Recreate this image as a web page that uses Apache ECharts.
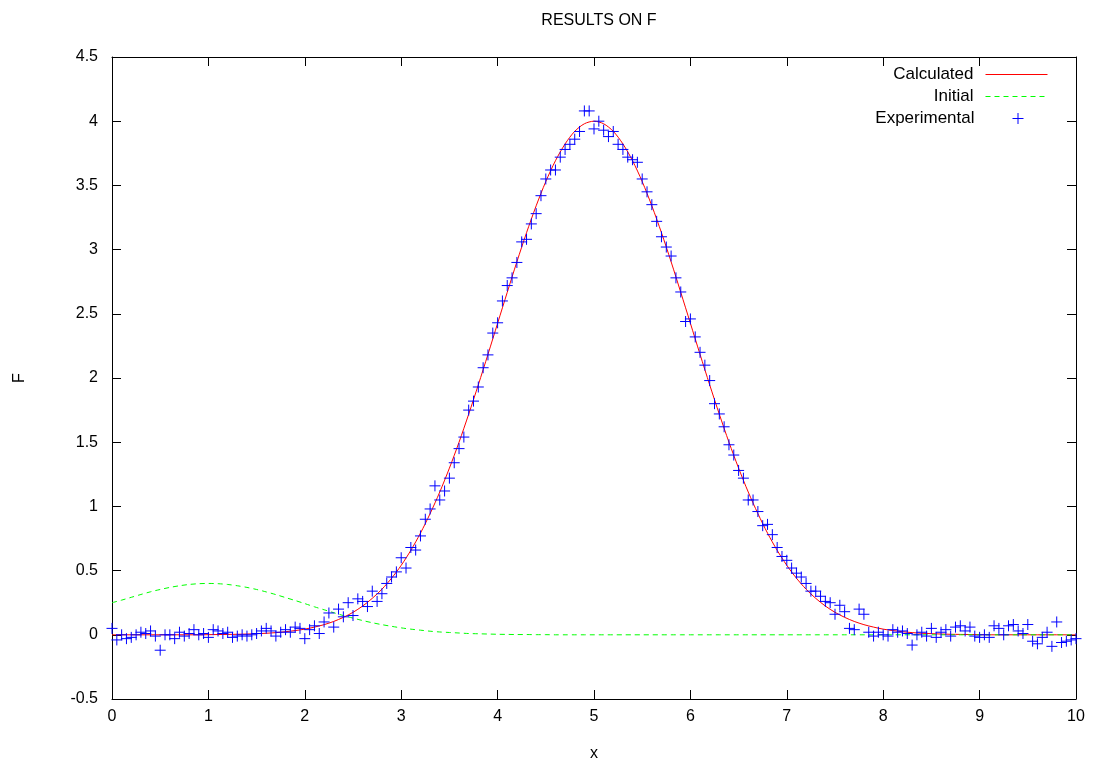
<!DOCTYPE html>
<html>
<head>
<meta charset="utf-8">
<script src="https://cdn.jsdelivr.net/npm/echarts@6/dist/echarts.min.js"></script>
<style>html,body{margin:0;padding:0;background:#fff}#c{width:1095px;height:767px}</style>
</head>
<body>
<div id="c"></div>
<script>
// x grids
const curveStart = 0, curveStep = 0.1;
const expStart = 0, expStep = 0.05;
const xTicks = [0,1,2,3,4,5,6,7,8,9,10];
const yTicks = [-0.5,0,0.5,1,1.5,2,2.5,3,3.5,4,4.5];

// Calculated (red) curve, sampled every 0.1 from x=0 to x=10
const calculated = [
 0.000,0.000,0.000,0.000,0.000,0.000,0.000,0.000,0.000,0.000,
 0.001,0.002,0.003,0.004,0.006,0.009,0.012,0.017,0.024,0.033,
 0.044,0.060,0.079,0.104,0.136,0.175,0.224,0.284,0.355,0.441,
 0.541,0.658,0.792,0.944,1.112,1.298,1.500,1.718,1.947,2.184,
 2.426,2.667,2.905,3.131,3.341,3.530,3.692,3.823,3.921,3.980,
 4.000,
 3.980,3.921,3.823,3.692,3.530,3.341,3.131,2.905,2.667,2.426,
 2.184,1.947,1.718,1.500,1.298,1.112,0.944,0.792,0.658,0.541,
 0.441,0.355,0.284,0.224,0.175,0.136,0.104,0.079,0.060,0.044,
 0.033,0.024,0.017,0.012,0.009,0.006,0.004,0.003,0.002,0.001,
 0.000,0.000,0.000,0.000,0.000,0.000,0.000,0.000,0.000,0.000
];

// Initial (green) curve, sampled every 0.1 from x=0 to x=10
const initial = [
 0.250,0.270,0.292,0.314,0.335,0.353,0.369,0.382,0.392,0.398,
 0.400,0.398,0.392,0.382,0.369,0.353,0.334,0.313,0.290,0.267,
 0.243,0.218,0.195,0.172,0.150,0.130,0.111,0.094,0.079,0.066,
 0.054,0.044,0.036,0.028,0.022,0.018,0.014,0.010,0.008,0.006,
 0.004,0.003,0.002,0.002,0.001,0.001,0.000,0.000,0.000,0.000,
 0.000,0.000,0.000,0.000,0.000,0.000,0.000,0.000,0.000,0.000,
 0.000,0.000,0.000,0.000,0.000,0.000,0.000,0.000,0.000,0.000,
 0.000,0.000,0.000,0.000,0.000,0.000,0.000,0.000,0.000,0.000,
 0.000,0.000,0.000,0.000,0.000,0.000,0.000,0.000,0.000,0.000,
 0.000,0.000,0.000,0.000,0.000,0.000,0.000,0.000,0.000,0.000,
 0.000
];

// Experimental points, every 0.05 from x=0 to x=10
const experimental = [
 0.05,-0.04,0.00,-0.03,-0.02,0.00,0.02,0.01,0.03,-0.01,
 -0.12,0.00,0.00,-0.03,0.02,-0.01,0.01,0.04,0.00,0.01,
 -0.02,0.04,0.03,0.01,0.02,-0.02,-0.01,0.00,-0.01,0.00,
 0.01,0.03,0.05,0.03,-0.01,0.02,0.04,0.02,0.06,0.05,
 -0.03,0.04,0.07,0.01,0.10,0.17,0.06,0.20,0.14,0.25,
 0.15,0.28,0.26,0.22,0.34,0.26,0.32,0.40,0.45,0.49,
 0.60,0.52,0.68,0.66,0.77,0.90,0.98,1.16,1.05,1.12,
 1.22,1.34,1.45,1.54,1.75,1.82,1.93,2.08,2.18,2.35,
 2.43,2.60,2.72,2.78,2.90,3.06,3.08,3.20,3.28,3.42,
 3.55,3.62,3.62,3.72,3.78,3.82,3.86,3.92,4.08,4.08,
 3.94,4.00,3.93,3.88,3.92,3.82,3.78,3.72,3.70,3.68,
 3.55,3.45,3.35,3.22,3.10,3.02,2.95,2.78,2.67,2.44,
 2.46,2.32,2.20,2.10,1.98,1.80,1.72,1.62,1.48,1.40,
 1.28,1.22,1.05,1.05,0.96,0.85,0.86,0.78,0.68,0.61,
 0.58,0.52,0.48,0.45,0.40,0.34,0.34,0.30,0.26,0.25,
 0.16,0.23,0.18,0.05,0.04,0.20,0.16,0.02,-0.01,0.02,
 0.00,-0.01,0.04,0.02,0.03,0.01,-0.08,0.00,0.02,-0.01,
 0.05,-0.02,0.02,0.04,-0.01,0.06,0.07,0.03,0.06,-0.01,
 -0.02,0.00,-0.02,0.07,0.05,0.00,0.07,0.08,0.03,0.01,
 0.08,-0.05,-0.07,-0.02,0.02,-0.09,0.10,-0.06,-0.05,-0.04,
 -0.03
];

const toPairs = (arr, start, step) => arr.map((v, i) => [+(start + i * step).toFixed(4), v]);

const FONT = "'Liberation Sans', Arial, sans-serif";
const plusPath = 'path://M0,5 L10,5 M5,0 L5,10';

const chart = echarts.init(document.getElementById('c'), null, {renderer: 'canvas'});

const baseX = {
  type: 'value', min: xTicks[0], max: xTicks[xTicks.length - 1], interval: 1,
  splitLine: {show: false},
  axisLine: {show: true, onZero: false, lineStyle: {color: '#000', width: 1}},
  axisTick: {show: true, inside: true, length: 9, lineStyle: {color: '#000'}}
};
const baseY = {
  type: 'value', min: yTicks[0], max: yTicks[yTicks.length - 1], interval: 0.5,
  splitLine: {show: false},
  axisLine: {show: true, onZero: false, lineStyle: {color: '#000', width: 1}},
  axisTick: {show: true, inside: true, length: 9, lineStyle: {color: '#000'}}
};

const legendCommon = {
  orient: 'vertical', align: 'right', padding: 0, itemGap: 0,
  selectedMode: false,
  textStyle: {fontFamily: FONT, fontSize: 17, color: '#000'}
};

chart.setOption({
  animation: false,
  backgroundColor: '#fff',
  title: {
    text: 'RESULTS ON F', left: 594, top: 8, textAlign: 'center',
    textStyle: {fontFamily: FONT, fontSize: 16, fontWeight: 'normal', color: '#000'}
  },
  grid: {left: 112, right: 19, top: 57, bottom: 64, containLabel: false},
  legend: [
    Object.assign({}, legendCommon, {
      data: ['Calculated'], right: 47, top: 66, itemWidth: 62, itemHeight: 14,
      itemStyle: {opacity: 0, borderWidth: 0},
      lineStyle: {width: 1},
      textStyle: Object.assign({}, legendCommon.textStyle, {padding: [0, 7, 0, 0]})
    }),
    Object.assign({}, legendCommon, {
      data: ['Initial'], right: 47, top: 88, itemWidth: 62, itemHeight: 14,
      itemStyle: {opacity: 0, borderWidth: 0},
      lineStyle: {width: 1},
      textStyle: Object.assign({}, legendCommon.textStyle, {padding: [0, 7, 0, 0]})
    }),
    Object.assign({}, legendCommon, {
      data: ['Experimental'], right: 71, top: 110, itemWidth: 11, itemHeight: 11,
      itemStyle: {color: '#0000ff', borderColor: '#0000ff', borderWidth: 1},
      textStyle: Object.assign({}, legendCommon.textStyle, {padding: [0, 33, 0, 0]})
    })
  ],
  xAxis: [
    Object.assign({}, baseX, {
      position: 'bottom', name: 'x', nameLocation: 'middle', nameGap: 47,
      nameTextStyle: {fontFamily: FONT, fontSize: 16, color: '#000'},
      axisLabel: {show: true, margin: 10, fontFamily: FONT, fontSize: 16, color: '#000'}
    }),
    Object.assign({}, baseX, {position: 'top', axisLabel: {show: false}})
  ],
  yAxis: [
    Object.assign({}, baseY, {
      position: 'left', name: 'F', nameLocation: 'middle', nameGap: 84, nameRotate: 90,
      nameTextStyle: {fontFamily: FONT, fontSize: 16, color: '#000'},
      axisLabel: {show: true, margin: 14, fontFamily: FONT, fontSize: 16, color: '#000'}
    }),
    Object.assign({}, baseY, {position: 'right', axisLabel: {show: false}})
  ],
  series: [
    {
      name: 'Calculated', type: 'line', xAxisIndex: 0, yAxisIndex: 0,
      data: toPairs(calculated, curveStart, curveStep),
      symbol: 'none', smooth: 0.3,
      lineStyle: {color: '#ff0000', width: 1},
      itemStyle: {color: '#ff0000'}, z: 2
    },
    {
      name: 'Initial', type: 'line', xAxisIndex: 0, yAxisIndex: 0,
      data: toPairs(initial, curveStart, curveStep),
      symbol: 'none', smooth: 0.3,
      lineStyle: {color: '#00ff00', width: 1, type: [5, 4]},
      itemStyle: {color: '#00ff00'}, z: 2
    },
    {
      name: 'Experimental', type: 'scatter', xAxisIndex: 0, yAxisIndex: 0,
      data: toPairs(experimental, expStart, expStep),
      symbol: plusPath, symbolSize: 11,
      itemStyle: {color: '#0000ff', borderColor: '#0000ff', borderWidth: 1, opacity: 1},
      z: 3
    }
  ]
});
</script>
</body>
</html>
